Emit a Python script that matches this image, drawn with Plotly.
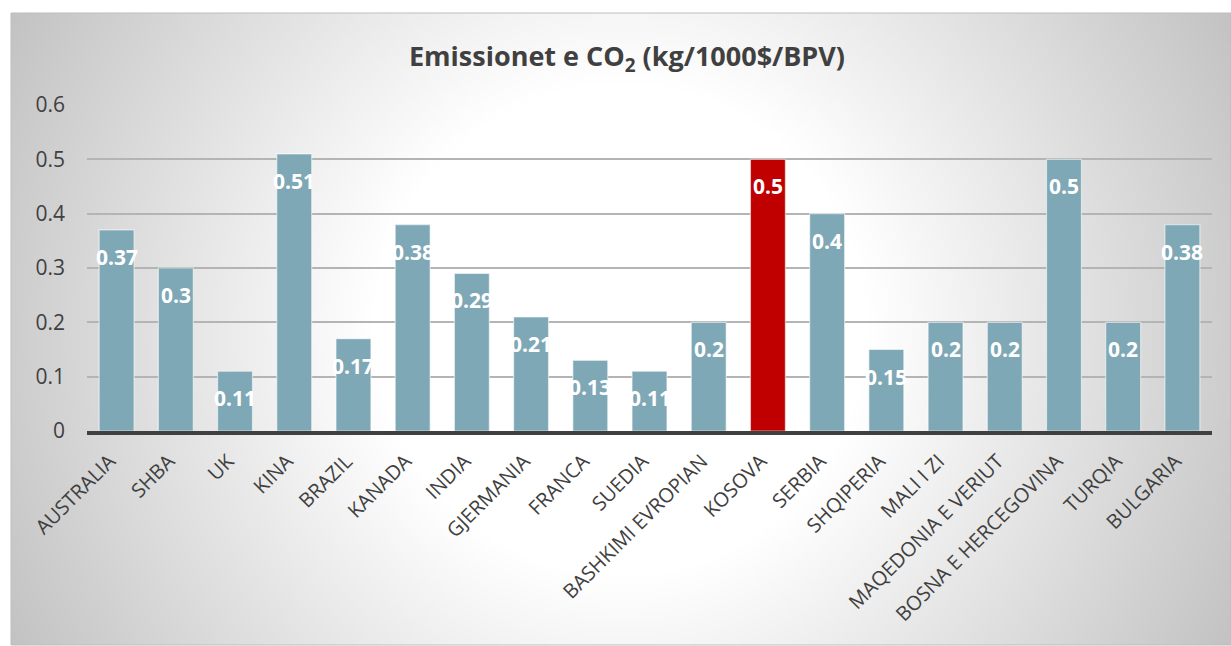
import base64
import math
import struct
import zlib

import plotly.graph_objects as go

# ---------------- data ----------------
categories = [
    "AUSTRALIA", "SHBA", "UK", "KINA", "BRAZIL", "KANADA", "INDIA", "GJERMANIA",
    "FRANCA", "SUEDIA", "BASHKIMI EVROPIAN", "KOSOVA", "SERBIA", "SHQIPERIA",
    "MALI I ZI", "MAQEDONIA E VERIUT", "BOSNA E HERCEGOVINA", "TURQIA", "BULGARIA",
]
values = [0.37, 0.3, 0.11, 0.51, 0.17, 0.38, 0.29, 0.21, 0.13, 0.11, 0.2, 0.5,
          0.4, 0.15, 0.2, 0.2, 0.5, 0.2, 0.38]
highlight = "KOSOVA"
y_ticks = [0, 0.1, 0.2, 0.3, 0.4, 0.5, 0.6]
title_text = "Emissionet e CO<sub>2</sub> (kg/1000$/BPV)"

# ---------------- styling ----------------
W, H = 1231, 646
FONT = "Open Sans"
BAR_COLOR = "#7fa8b6"
HIGHLIGHT_COLOR = "#c00000"
TEXT_COLOR = "#404040"

# background rectangle (pixels)
bx0, by0, bx1, by1 = 11, 13, 1231, 645


def radial_png(w_px, h_px, scale):
    """Build a grayscale PNG with a radial white-to-gray gradient (chart-area fill)."""
    gw, gh = int(w_px / scale), int(h_px / scale)
    cx, cy = w_px / 2.0, h_px / 2.0
    rows = b""
    for j in range(gh):
        row = bytearray([0])
        for i in range(gw):
            px, py = (i + 0.5) * scale, (j + 0.5) * scale
            r = math.hypot(px - cx, py - cy)
            v = 255 - max(0.0, r - 250) * 0.137
            row.append(int(max(190, min(255, v))))
        rows += bytes(row)

    def chunk(tag, data):
        c = struct.pack(">I", len(data)) + tag + data
        return c + struct.pack(">I", zlib.crc32(tag + data) & 0xffffffff)

    png = b"\x89PNG\r\n\x1a\n"
    png += chunk(b"IHDR", struct.pack(">IIBBBBB", gw, gh, 8, 0, 0, 0, 0))
    png += chunk(b"IDAT", zlib.compress(rows, 9))
    png += chunk(b"IEND", b"")
    return "data:image/png;base64," + base64.b64encode(png).decode()


bg_src = radial_png(bx1 - bx0, by1 - by0, 4)

colors = [HIGHLIGHT_COLOR if c == highlight else BAR_COLOR for c in categories]

fig = go.Figure()
fig.add_trace(go.Bar(
    x=categories,
    y=values,
    marker=dict(color=colors, line=dict(color="rgba(255,255,255,0.55)", width=1.2)),
    hoverinfo="x+y",
))

for c, v in zip(categories, values):
    fig.add_annotation(
        x=c, y=v, text=f"<b>{v:g}</b>", showarrow=False,
        yshift=-27, yanchor="middle", xanchor="center",
        font=dict(family=FONT, size=21, color="white"),
    )

# plot-area in pixels
px0, px1 = 87, 1212
py_top, py_bot = 105, 431

fig.update_layout(
    width=W, height=H,
    margin=dict(l=0, r=0, t=0, b=0),
    paper_bgcolor="white",
    plot_bgcolor="rgba(0,0,0,0)",
    showlegend=False,
    bargap=0.41,
    font=dict(family=FONT, color=TEXT_COLOR),
    title=dict(
        text=title_text, x=627 / W, xanchor="center", y=1 - 57 / H, yanchor="middle",
        xref="paper", yref="paper",
        font=dict(family=FONT, size=27, color=TEXT_COLOR, weight="bold"),
    ),
    xaxis=dict(
        domain=[px0 / W, px1 / W],
        showline=True, linecolor="#404040", linewidth=3.5,
        showgrid=False, ticks="", tickangle=-45,
        ticklabelstandoff=7, ticklabelshift=-7,
        tickfont=dict(family=FONT, size=20, color=TEXT_COLOR),
        automargin=False, fixedrange=True,
    ),
    yaxis=dict(
        domain=[1 - py_bot / H, 1 - py_top / H],
        range=[0, 0.6], tickvals=y_ticks, ticktext=[f"{t:g}" for t in y_ticks],
        showgrid=True, gridcolor="#b4b4b4", gridwidth=1.5,
        zeroline=False, showline=False, ticks="",
        ticklabelstandoff=21,
        tickfont=dict(family=FONT, size=21, color=TEXT_COLOR),
        automargin=False, fixedrange=True,
    ),
    images=[dict(
        source=bg_src, xref="paper", yref="paper",
        x=bx0 / W, y=1 - by0 / H, sizex=(bx1 - bx0) / W, sizey=(by1 - by0) / H,
        xanchor="left", yanchor="top", sizing="stretch", layer="below",
    )],
    shapes=[dict(
        type="rect", xref="paper", yref="paper", layer="below",
        x0=bx0 / W, x1=bx1 / W, y0=1 - by1 / H, y1=1 - by0 / H,
        line=dict(color="#bdbdbd", width=1), fillcolor="rgba(0,0,0,0)",
    )],
)

fig.write_html(
    "out.html",
    config={"displayModeBar": False},
    post_script="document.body.style.margin='0';document.body.style.overflow='hidden';",
)
